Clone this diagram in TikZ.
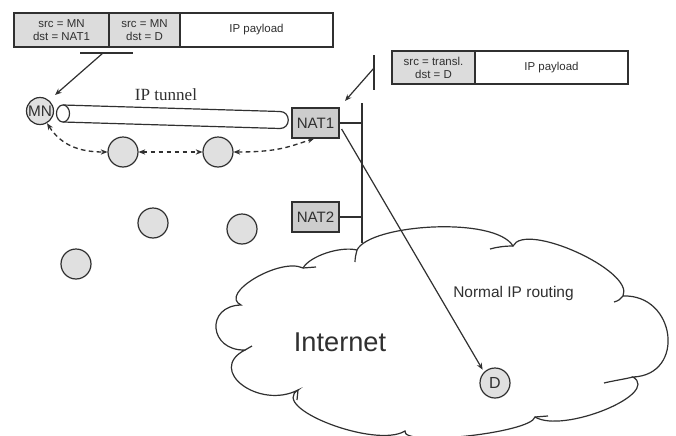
\documentclass[tikz,border=0pt]{standalone}
\usepackage{fontspec}
\setmainfont{Liberation Sans}
\newfontfamily\tunnelfont{Liberation Serif}
\usetikzlibrary{arrows.meta}
\definecolor{cellgrey}{HTML}{DCDCDC}
\definecolor{boxgrey}{HTML}{CDCDCD}
\definecolor{nodegrey}{HTML}{E0E0E0}
\definecolor{ink}{HTML}{303030}
\begin{document}
\begin{tikzpicture}[x=0.75pt,y=-0.75pt,line width=0.9pt,color=ink,
  cell/.style={draw, line width=1.1pt, inner sep=0pt, minimum height=25.5pt, align=center, font=\fontsize{8.6}{9.8}\selectfont},
  host/.style={circle, draw, fill=nodegrey, minimum size=22.5pt, inner sep=0pt, font=\fontsize{11.5}{13}\selectfont},
  nat/.style={draw, fill=boxgrey, minimum width=35.25pt, minimum height=22.5pt, inner sep=0pt, font=\fontsize{11.3}{13}\selectfont},
  tip/.style={-{Stealth[length=5pt,width=4pt]}},
  dasharrow/.style={{Stealth[length=5pt,width=4pt]}-{Stealth[length=5pt,width=4pt]}, line width=1pt, dash pattern=on 3.5pt off 2.5pt},
]
\useasboundingbox (0,0) rectangle (676,436);
\fill[white] (0,0) rectangle (676,436);

% cloud
\draw[fill=white] (357,250) .. controls (370,224) and (495,216) .. (513,246)
  .. controls (525,221) and (635,271) .. (623,296)
  .. controls (676,294) and (686,375) .. (633,377)
  .. controls (661,394) and (563,434) .. (535,417)
  .. controls (531,433) and (401,447) .. (405,431)
  .. controls (376,449) and (269,408) .. (298,390)
  .. controls (259,410) and (206,370) .. (245,350)
  .. controls (209,351) and (205,306) .. (241,305)
  .. controls (218,294) and (280,257) .. (303,268)
  .. controls (310,256) and (340,246) .. cycle;
% cloud tails
\draw (303,268) -- (316,267);
\draw (357,250) .. controls (356,254) and (355,258) .. (355,262);
\draw (513,246) .. controls (505,246) and (497,247) .. (490,249);
\draw (623,296) .. controls (621,299) and (618,301) .. (614,302);
\draw (633,377) .. controls (625,379) and (612,381) .. (604,383);
\draw (535,417) -- (548,416);
\draw (298,390) -- (297,400);
\draw (245,350) -- (252,346);

% packet headers
\node[cell, fill=cellgrey, minimum width=71.25pt] (h1) at (61.5,30) {src = MN\\dst = NAT1};
\node[cell, fill=cellgrey, minimum width=53.25pt] (h2) at (144.5,30) {src = MN\\dst = D};
\node[cell, fill=white, minimum width=114.75pt] (h3) at (256.5,30) {IP payload};
\node[cell, fill=cellgrey, minimum width=62.25pt, minimum height=24.75pt] (g1) at (433.5,67.5) {src = transl.\\dst = D};
\node[cell, fill=white, minimum width=114.75pt, minimum height=24.75pt] (g2) at (551.5,67.5) {IP payload};

% hosts
\node[host, minimum size=20.25pt] (MN) at (40,111) {MN};
\node[host] (c1) at (123,152) {};
\node[host] (c2) at (218,152) {};
\node[host] (c3) at (153,223) {};
\node[host] (c4) at (242,229) {};
\node[host] (c5) at (76,264) {};
\node[host, font=\fontsize{12}{14}\selectfont] (D) at (495,383) {D};
\node[nat] (NAT1) at (315.5,123) {NAT1};
\node[nat] (NAT2) at (315.5,217) {NAT2};

% tunnel
\draw[fill=white] (63,105) -- (280,111.5) .. controls (291,111.5) and (291,128.5) .. (280,128.5) -- (63,122);
\draw[fill=white] (63,113.5) ellipse [x radius=4.9pt, y radius=6.4pt];
\node[font=\tunnelfont\fontsize{12.8}{14}\selectfont] (tl) at (166,95) {IP tunnel};

% pointers
\coordinate (b1l) at (80,53);
\coordinate (b1r) at (133,53);
\coordinate (b1m) at (103,53);
\coordinate (b1t) at (55,95);
\draw (b1l) -- (b1r);
\draw[tip] (b1m) -- (b1t);
\coordinate (b2t) at (374,55);
\coordinate (b2b) at (374,90);
\coordinate (b2m) at (374,68);
\coordinate (b2a) at (345,101);
\draw (b2t) -- (b2b);
\draw[tip] (b2m) -- (b2a);

% bus
\coordinate (bt) at (362,103);
\coordinate (bb) at (362,243);
\draw (bt) -- (bb);
\draw (NAT1.east) -- (NAT1.east -| bt);
\draw (NAT2.east) -- (NAT2.east -| bt);

% dashed multi-hop path
\draw[dasharrow] (MN.-60) .. controls +(14,22) and +(-28,0) .. (c1.west);
\draw[dasharrow] (c1.east) -- (c2.west);
\draw[dasharrow] (c2.east) .. controls +(45,0) and +(-25,8) .. ([xshift=-1pt]NAT1.south);

% labels
\node[font=\fontsize{20.4}{24}\selectfont] (inet) at (340,342) {Internet};
\node[font=\fontsize{11.6}{13}\selectfont] (nr) at (513.5,293) {Normal IP routing};

% routing
\draw[tip, shorten >=2pt] ([shift={(2,6)}]NAT1.east) -- (D.north west);
\end{tikzpicture}
\end{document}
